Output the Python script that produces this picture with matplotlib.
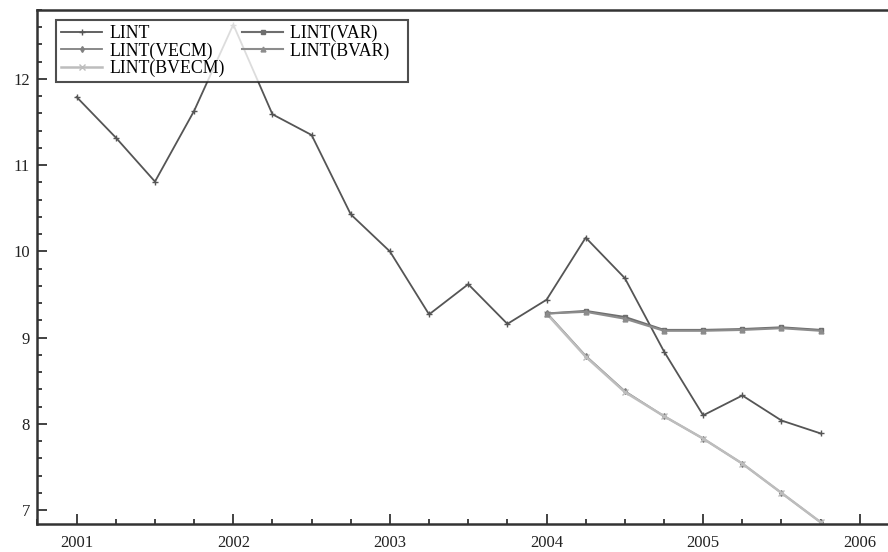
from matplotlib import pyplot as plt
from matplotlib.ticker import MultipleLocator
import numpy as np

plt.rcParams['font.family'] = ['Liberation Serif', 'DejaVu Serif']

# quarterly dates, 2001Q1 .. 2005Q4
dates = np.arange(2001.0, 2006.0, 0.25)
lint = [11.79, 11.32, 10.81, 11.63, 12.63, 11.59, 11.35, 10.43,
        10.00, 9.27, 9.62, 9.16, 9.44, 10.16, 9.69, 8.84,
        8.10, 8.33, 8.04, 7.89]

# forecasts start at 2004Q1
fc_dates = np.arange(2004.0, 2006.0, 0.25)
lint_var = [9.28, 9.31, 9.24, 9.09, 9.09, 9.10, 9.12, 9.09]
lint_bvar = [9.28, 9.30, 9.22, 9.08, 9.08, 9.09, 9.11, 9.08]
lint_vecm = [9.29, 8.79, 8.38, 8.09, 7.83, 7.54, 7.20, 6.86]
lint_bvecm = [9.28, 8.78, 8.37, 8.09, 7.83, 7.54, 7.20, 6.86]

fig = plt.figure(figsize=(8.88, 5.52), dpi=100)
ax = fig.add_axes([0.0417, 0.0507, 0.9583, 0.9313])

ax.plot(dates, lint, color='#555555', lw=1.3, marker='+', ms=4, mew=1, label='LINT')
ax.plot(fc_dates, lint_vecm, color='#808080', lw=1.3, marker='d', ms=3, label='LINT(VECM)')
ax.plot(fc_dates, lint_bvecm, color='#bdbdbd', lw=1.8, marker='x', ms=4, label='LINT(BVECM)')
ax.plot(fc_dates, lint_var, color='#6e6e6e', lw=1.5, marker='s', ms=3.5, label='LINT(VAR)')
ax.plot(fc_dates, lint_bvar, color='#8c8c8c', lw=1.5, marker='^', ms=3.5, label='LINT(BVAR)')

ax.set_xlim(2000.747, 2006.18)
ax.set_ylim(6.84, 12.80)
ax.xaxis.set_major_locator(MultipleLocator(1))
ax.xaxis.set_minor_locator(MultipleLocator(0.25))
ax.yaxis.set_major_locator(MultipleLocator(1))
ax.yaxis.set_minor_locator(MultipleLocator(0.2))
ax.xaxis.set_major_formatter(plt.FuncFormatter(lambda v, p: '%d' % v))

ax.tick_params(which='both', direction='in', top=False, right=False, labelsize=12, colors='#222222')
ax.tick_params(which='major', length=7, width=1.2)
ax.tick_params(which='minor', length=3.5, width=1.2)
ax.tick_params(axis='x', which='major', pad=8)
ax.tick_params(axis='y', which='major', pad=5)

for s in ['left', 'bottom', 'top']:
    ax.spines[s].set_linewidth(1.8)
    ax.spines[s].set_color('#333333')
ax.spines['right'].set_visible(False)

# trailing spaces widen the second column a bit
leg = ax.legend(ncol=2, loc='upper left', bbox_to_anchor=(0.022, 0.981), fontsize=12.8,
                frameon=True, fancybox=False, edgecolor='#222222', labelspacing=0.0,
                handlelength=2.3, handletextpad=0.4, columnspacing=1.0, borderpad=0.3,
                borderaxespad=0)
leg.get_frame().set_linewidth(1.5)
for t in leg.get_texts()[3:]:
    t.set_text(t.get_text() + '   ')

plt.savefig('out.png', dpi=100)
